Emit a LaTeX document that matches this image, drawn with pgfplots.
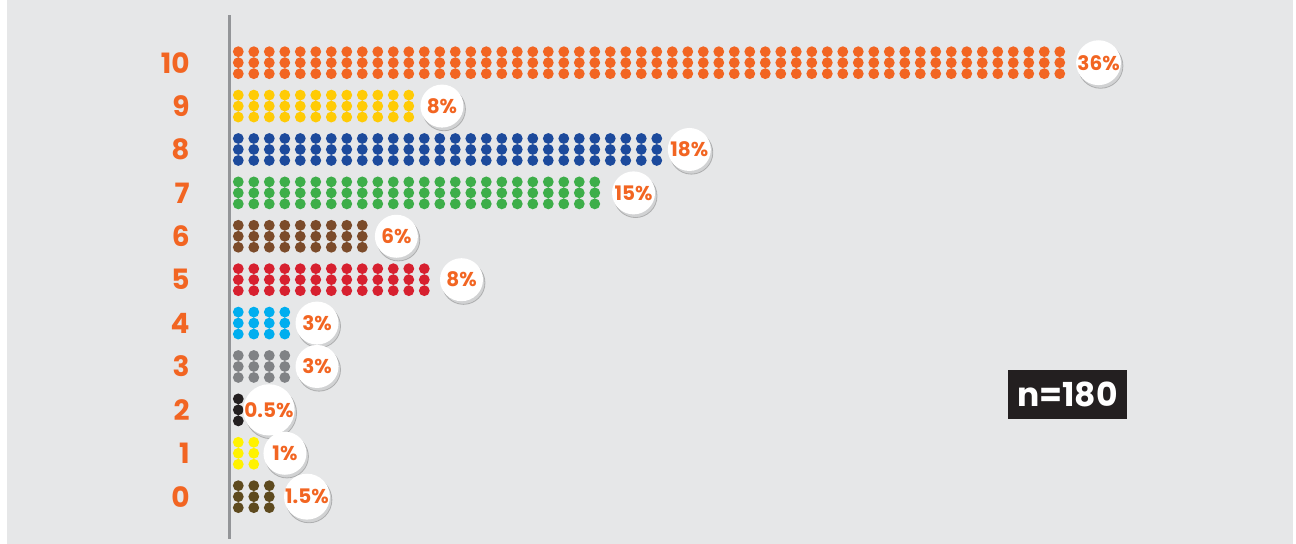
\documentclass[border=0pt]{standalone}
\usepackage{pgfplots}
\pgfplotsset{compat=1.18}
\usepackage{fontspec}
\setmainfont{Poppins}
\usetikzlibrary{shadows}

\definecolor{bg}{HTML}{E6E7E8}
\definecolor{axgray}{HTML}{939598}
\definecolor{orng}{HTML}{F26522}
\definecolor{c10}{HTML}{F26522}
\definecolor{c9}{HTML}{FFCB05}
\definecolor{c8}{HTML}{1C4A9C}
\definecolor{c7}{HTML}{3DAE49}
\definecolor{c6}{HTML}{7B4B2A}
\definecolor{c5}{HTML}{D7202F}
\definecolor{c4}{HTML}{00AEEF}
\definecolor{c3}{HTML}{808285}
\definecolor{c2}{HTML}{231F20}
\definecolor{c1}{HTML}{FFF200}
\definecolor{c0}{HTML}{5E4A1E}
\definecolor{nbox}{HTML}{231F20}

% one column of the pictograph = three stacked dots
\pgfdeclareplotmark{tri}{%
  \pgfpathcircle{\pgfpoint{0pt}{5.5pt}}{2.7pt}%
  \pgfpathcircle{\pgfpointorigin}{2.7pt}%
  \pgfpathcircle{\pgfpoint{0pt}{-5.5pt}}{2.7pt}%
  \pgfusepathqfill}

\begin{document}
\begin{tikzpicture}
\path[use as bounding box, fill=white] (0,0) rectangle (648pt,272pt);
\fill[bg] (3.5pt,0) rectangle (646.5pt,272pt);
\begin{axis}[
    at={(114.5pt,2.5pt)}, anchor=south west,
    scale only axis,
    width=533.5pt, height=262pt,
    xmin=0.4, xmax=69.24,
    ymin=-0.975, ymax=11.099,
    axis x line=none,
    axis y line=left,
    y axis line style={draw=axgray, line width=1.5pt, -},
    ytick={0,...,10},
    major tick length=0pt,
    /pgf/number format/assume math mode=true,
    yticklabel style={font=\bfseries\fontsize{14}{14}\selectfont, text=orng,
        inner sep=0pt, anchor=east, xshift=-19.5pt},
    clip=false,
    every axis plot/.append style={only marks, mark=tri},
]
\addplot[color=c10] coordinates {(1,10)(2,10)(3,10)(4,10)(5,10)(6,10)(7,10)(8,10)(9,10)(10,10)(11,10)(12,10)(13,10)(14,10)(15,10)(16,10)(17,10)(18,10)(19,10)(20,10)(21,10)(22,10)(23,10)(24,10)(25,10)(26,10)(27,10)(28,10)(29,10)(30,10)(31,10)(32,10)(33,10)(34,10)(35,10)(36,10)(37,10)(38,10)(39,10)(40,10)(41,10)(42,10)(43,10)(44,10)(45,10)(46,10)(47,10)(48,10)(49,10)(50,10)(51,10)(52,10)(53,10)(54,10)};
\addplot[color=c9] coordinates {(1,9)(2,9)(3,9)(4,9)(5,9)(6,9)(7,9)(8,9)(9,9)(10,9)(11,9)(12,9)};
\addplot[color=c8] coordinates {(1,8)(2,8)(3,8)(4,8)(5,8)(6,8)(7,8)(8,8)(9,8)(10,8)(11,8)(12,8)(13,8)(14,8)(15,8)(16,8)(17,8)(18,8)(19,8)(20,8)(21,8)(22,8)(23,8)(24,8)(25,8)(26,8)(27,8)(28,8)};
\addplot[color=c7] coordinates {(1,7)(2,7)(3,7)(4,7)(5,7)(6,7)(7,7)(8,7)(9,7)(10,7)(11,7)(12,7)(13,7)(14,7)(15,7)(16,7)(17,7)(18,7)(19,7)(20,7)(21,7)(22,7)(23,7)(24,7)};
\addplot[color=c6] coordinates {(1,6)(2,6)(3,6)(4,6)(5,6)(6,6)(7,6)(8,6)(9,6)};
\addplot[color=c5] coordinates {(1,5)(2,5)(3,5)(4,5)(5,5)(6,5)(7,5)(8,5)(9,5)(10,5)(11,5)(12,5)(13,5)};
\addplot[color=c4] coordinates {(1,4)(2,4)(3,4)(4,4)};
\addplot[color=c3] coordinates {(1,3)(2,3)(3,3)(4,3)};
\addplot[color=c2] coordinates {(1,2)};
\addplot[color=c1] coordinates {(1,1)(2,1)};
\addplot[color=c0] coordinates {(1,0)(2,0)(3,0)};

% percentage badges
\addplot[mark=none, point meta=explicit symbolic,
    nodes near coords,
    every node near coord/.append style={anchor=center, circle, fill=white,
        minimum size=21.5pt, inner sep=0pt, text=orng,
        font=\bfseries\fontsize{10}{10}\selectfont,
        drop shadow={shadow xshift=1pt, shadow yshift=-1.6pt, opacity=0.2}},
] coordinates {
    (56.5,10) [36\%]
    (14.14,9) [8\%]
    (30.1,8) [18\%]
    (26.5,7) [15\%]
    (11.2,6) [6\%]
    (15.4,5) [8\%]
    (6.08,4) [3\%]
    (6.08,3) [3\%]
    (2.98,2) [0.5\%]
    (4.01,1) [1\%]
    (5.43,0) [1.5\%]
};

\node[fill=nbox, text=white, minimum width=59.5pt, minimum height=24.5pt,
    inner sep=0pt, font=\bfseries\fontsize{16.5}{17}\selectfont]
    at (axis cs:54.5,2.355) {n=180};
\end{axis}
\end{tikzpicture}
\end{document}
